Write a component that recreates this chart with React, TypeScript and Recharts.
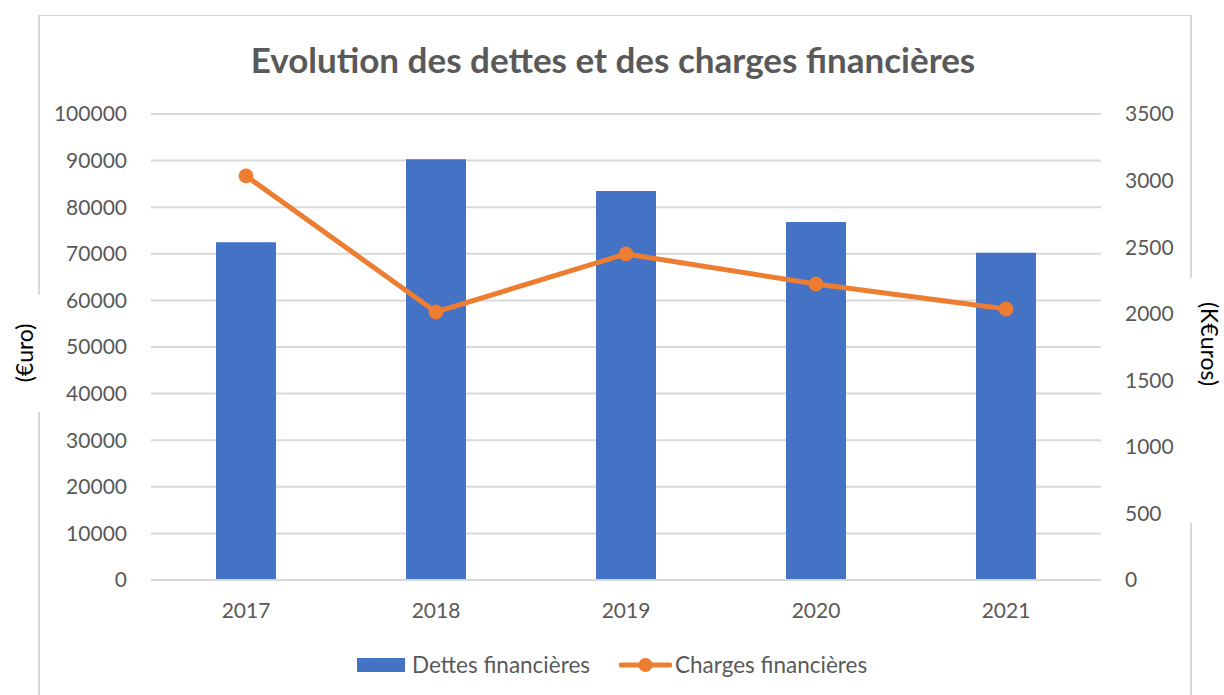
import React from 'react';
import { ComposedChart, Bar, Line, XAxis, YAxis, CartesianGrid, Legend } from 'recharts';

// valeurs
const years = ['2017', '2018', '2019', '2020', '2021'];
const dettes = [72500, 90300, 83500, 76800, 70200];
const charges = [3035, 2013, 2449, 2223, 2035];
const leftTicks = [0, 10000, 20000, 30000, 40000, 50000, 60000, 70000, 80000, 90000, 100000];
const rightTicks = [0, 500, 1000, 1500, 2000, 2500, 3000, 3500];

const W = 1224;
const H = 695;
const FONT = 'Lato, "Open Sans", sans-serif';
const GREY = '#595959';
const BLUE = '#4472C4';
const ORANGE = '#ED7D31';
const FRAME = '#d9d9d9';

const data = years.map((y, i) => ({ year: y, dettes: dettes[i], charges: charges[i] }));

const tickStyle = { fontSize: 21, fill: GREY, fontFamily: FONT };

const LeftTitle = (props: any) => {
  const vb = props.viewBox;
  const cx = 24;
  const cy = vb.y + vb.height / 2 + 6;
  return (
    <text x={cx} y={cy} transform={`rotate(-90 ${cx} ${cy})`} textAnchor="middle" dominantBaseline="central"
      fontSize={23} fontFamily={FONT} fill="#000">
      (€uro)
    </text>
  );
};

const RightTitle = (props: any) => {
  const vb = props.viewBox;
  const cx = 1210;
  const cy = vb.y + vb.height / 2 - 3;
  return (
    <text x={cx} y={cy} transform={`rotate(90 ${cx} ${cy})`} textAnchor="middle" dominantBaseline="central"
      fontSize={23} fontFamily={FONT} fill="#000">
      (K€uros)
    </text>
  );
};

const renderLegend = () => (
  <div style={{ display: 'flex', alignItems: 'center', fontFamily: FONT, fontSize: 22.5, color: GREY, whiteSpace: 'nowrap' }}>
    <div style={{ width: 48, height: 14, background: BLUE, marginRight: 7 }} />
    <span>Dettes financières</span>
    <svg width={53} height={16} style={{ marginLeft: 29, marginRight: 3 }}>
      <line x1={2} y1={8} x2={51} y2={8} stroke={ORANGE} strokeWidth={5} strokeLinecap="round" />
      <circle cx={26.5} cy={8} r={7} fill={ORANGE} />
    </svg>
    <span>Charges financières</span>
  </div>
);

export default function App() {
  return (
    <div style={{ position: 'absolute', left: 0, top: 0, width: W, height: H, background: '#fff', overflow: 'hidden' }}>
      {/* cadre du graphique, interrompu derrière les titres d'axes */}
      <div style={{ position: 'absolute', left: 38, top: 15, width: 1153, height: 1, background: FRAME }} />
      <div style={{ position: 'absolute', left: 38, top: 15, width: 2, height: 280, background: FRAME }} />
      <div style={{ position: 'absolute', left: 38, top: 412, width: 2, height: 300, background: FRAME }} />
      <div style={{ position: 'absolute', left: 1190, top: 15, width: 2, height: 263, background: FRAME }} />
      <div style={{ position: 'absolute', left: 1190, top: 523, width: 2, height: 200, background: FRAME }} />

      <div style={{ position: 'absolute', left: 0, top: 42, width: 1226, textAlign: 'center', fontFamily: FONT,
        fontWeight: 700, fontSize: 35, lineHeight: '35px', color: GREY }}>
        Evolution des dettes et des charges financières
      </div>

      <div style={{ position: 'absolute', left: 0, top: 0 }}>
        <ComposedChart width={W} height={H} data={data} margin={{ top: 114, right: 0, bottom: 0, left: 0 }}>
          <CartesianGrid vertical={false} stroke={FRAME} strokeWidth={2} yAxisId="left" />
          <XAxis dataKey="year" axisLine={{ stroke: FRAME, strokeWidth: 2 }} tickLine={false} tickSize={0} tickMargin={23}
            tick={tickStyle} height={115} />
          <YAxis yAxisId="left" domain={[0, 100000]} ticks={leftTicks} interval={0} width={151}
            axisLine={false} tickLine={false} tickSize={0} tickMargin={24} tick={tickStyle}
            label={{ content: LeftTitle }} />
          <YAxis yAxisId="right" orientation="right" domain={[0, 3500]} ticks={rightTicks} interval={0} width={123}
            axisLine={false} tickLine={false} tickSize={0} tickMargin={24} tick={tickStyle}
            label={{ content: RightTitle }} />
          <Bar yAxisId="left" dataKey="dettes" name="Dettes financières" fill={BLUE} barSize={60} isAnimationActive={false} />
          <Line yAxisId="right" dataKey="charges" name="Charges financières" stroke={ORANGE} strokeWidth={5}
            dot={{ r: 7, fill: ORANGE, stroke: ORANGE, strokeWidth: 1 }} activeDot={false} isAnimationActive={false} />
          <Legend layout="horizontal" verticalAlign="middle" align="center" content={renderLegend}
            wrapperStyle={{ top: 651, left: 357, width: 'auto' }} />
        </ComposedChart>
      </div>
    </div>
  );
}
